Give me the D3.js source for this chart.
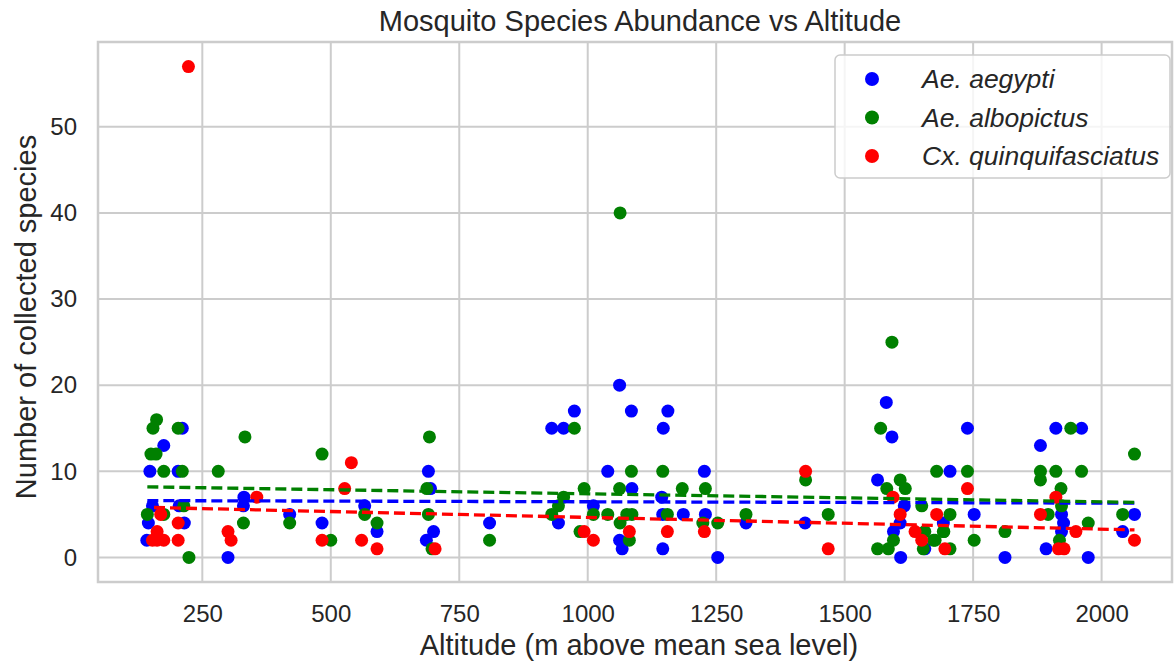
<!DOCTYPE html>
<html>
<head>
<meta charset="utf-8">
<script src="https://cdn.jsdelivr.net/npm/d3@7"></script>
<style>
  body { margin: 0; background: #fff; }
  svg text { font-family: "Liberation Sans", Arial, sans-serif; fill: #262626; }
</style>
</head>
<body>
<svg id="chart" width="1174" height="661"></svg>
<script>
// values
var aegyptiAlt   = [175,211,148,203,331,330,153,205,145,215,142,300,420,483,566,590,
                    690,694,700,686,809,930,953,974,943,1011,1039,1062,1085,1086,1062,1067,1147,1156,1144,1146,1146,1186,
                    1227,1229,1253,1308,1423,1581,1592,1564,1616,1608,1595,1609,1705,1692,1656,
                    1739,1752,1812,1881,1911,1961,1922,1926,1922,1892,1974,2064,2041];
var aegyptiCount = [13,15,10,10,7,6,6,6,4,4,2,0,5,4,6,3,
                    10,8,3,2,4,15,15,17,4,6,10,20,17,8,2,1,15,17,7,5,1,5,
                    10,5,0,4,4,18,14,9,6,4,3,0,10,4,1,
                    15,5,0,13,15,15,5,4,3,1,0,5,3];

var albopictusAlt   = [161,154,203,150,160,175,211,281,333,483,143,175,214,224,330,420,500,566,590,
                       692,687,690,697,809,974,953,943,930,993,1011,985,1039,1062,1085,1076,1086,1063,1081,1146,1155,1184,1063,
                       1229,1224,1253,1308,1424,1468,1570,1582,1608,1618,1650,1595,1564,1585,1673,1653,1679,1705,1693,1705,1592,1656,1676,1692,
                       1739,1752,1812,1940,1881,1881,1911,1961,1921,1896,1922,1918,1974,2064,2041];
var albopictusCount = [16,15,15,12,12,10,10,10,14,12,5,5,6,0,4,4,2,5,4,
                       14,8,5,1,2,15,7,6,5,8,5,3,5,8,10,5,5,4,2,10,5,8,40,
                       8,4,4,5,9,5,15,8,9,8,6,2,1,1,2,1,10,5,3,1,25,3,2,3,
                       10,2,3,15,10,9,10,10,8,5,6,2,4,12,5];

var quinqAlt   = [223,540,527,356,169,203,162,153,162,175,203,300,306,483,560,590,
                  703,993,1011,1081,1155,
                  1227,1424,1468,1594,1608,1637,1650,1679,1695,
                  1739,1911,1881,1916,1927,1950,2064];
var quinqCount = [57,11,8,7,5,4,3,2,2,2,2,3,2,2,2,1,
                  1,3,2,3,3,
                  3,10,1,7,5,3,2,5,1,
                  8,7,5,1,1,3,2];

// dashed trend lines: [start alt, end alt] and [start count, end count]
var aegyptiTrendAlt = [143, 2064],    aegyptiTrend = [6.6, 6.3];
var albopictusTrendAlt = [143, 2064], albopictusTrend = [8.2, 6.4];
var quinqTrendAlt = [156, 2064],      quinqTrend = [5.8, 3.2];

var xTicks = [250, 500, 750, 1000, 1250, 1500, 1750, 2000];
var yTicks = [0, 10, 20, 30, 40, 50];
var speciesNames = ["Ae. aegypti", "Ae. albopictus", "Cx. quinquifasciatus"];
var speciesColors = ["#0000ff", "#008000", "#ff0000"];

var series = [
  {alt: aegyptiAlt, count: aegyptiCount, tAlt: aegyptiTrendAlt, t: aegyptiTrend},
  {alt: albopictusAlt, count: albopictusCount, tAlt: albopictusTrendAlt, t: albopictusTrend},
  {alt: quinqAlt, count: quinqCount, tAlt: quinqTrendAlt, t: quinqTrend}
];

// plot box ("top" is taken by window.top, so m-prefixed names)
var mLeft = 98, mRight = 1172, mTop = 42, mBottom = 582;
var svg = d3.select("#chart");

var x = d3.scaleLinear().domain([47, 2137]).range([mLeft, mRight]);
var y = d3.scaleLinear().domain([-2.85, 59.85]).range([mBottom, mTop]);

// grid
svg.append("g").selectAll("line").data(xTicks).enter().append("line")
  .attr("x1", d => x(d)).attr("x2", d => x(d))
  .attr("y1", mTop).attr("y2", mBottom)
  .style("stroke", "#cccccc").style("stroke-width", 2);
svg.append("g").selectAll("line").data(yTicks).enter().append("line")
  .attr("x1", mLeft).attr("x2", mRight)
  .attr("y1", d => y(d)).attr("y2", d => y(d))
  .style("stroke", "#cccccc").style("stroke-width", 2);

// frame
svg.append("rect")
  .attr("x", mLeft).attr("y", mTop)
  .attr("width", mRight - mLeft).attr("height", mBottom - mTop)
  .style("fill", "none").style("stroke", "#cccccc").style("stroke-width", 2.5);

// axes (labels only, seaborn whitegrid has no tick marks)
var xAxis = svg.append("g").attr("transform", "translate(0," + mBottom + ")")
  .call(d3.axisBottom(x).tickValues(xTicks).tickFormat(d3.format("d")).tickSize(0).tickPadding(23));
var yAxis = svg.append("g").attr("transform", "translate(" + mLeft + ",0)")
  .call(d3.axisLeft(y).tickValues(yTicks).tickFormat(d3.format("d")).tickSize(0).tickPadding(21));
[xAxis, yAxis].forEach(function(a) {
  a.select(".domain").remove();
  a.selectAll("text").style("font-size", "24px").style("font-family", "Liberation Sans, Arial, sans-serif").attr("fill", "#262626");
});

// points
series.forEach(function(s, i) {
  svg.append("g").selectAll("circle").data(s.alt).enter().append("circle")
    .attr("cx", d => x(d))
    .attr("cy", (d, j) => y(s.count[j]))
    .attr("r", 6.5)
    .style("fill", speciesColors[i]);
});

// trend lines
series.forEach(function(s, i) {
  svg.append("line")
    .attr("x1", x(s.tAlt[0])).attr("x2", x(s.tAlt[1]))
    .attr("y1", y(s.t[0])).attr("y2", y(s.t[1]))
    .style("stroke", speciesColors[i])
    .style("stroke-width", 3.3)
    .style("stroke-dasharray", "11,5");
});

// title and axis labels
svg.append("text").attr("x", 640).attr("y", 31)
  .attr("text-anchor", "middle").style("font-size", "29px")
  .text("Mosquito Species Abundance vs Altitude");
svg.append("text").attr("x", 639).attr("y", 655)
  .attr("text-anchor", "middle").style("font-size", "29px")
  .text("Altitude (m above mean sea level)");
svg.append("text")
  .attr("transform", "translate(36,317) rotate(-90)")
  .attr("text-anchor", "middle").style("font-size", "29px")
  .text("Number of collected species");

// legend
var legend = svg.append("g");
legend.append("rect")
  .attr("x", 835).attr("y", 55).attr("width", 335).attr("height", 123)
  .attr("rx", 5)
  .style("fill", "white").style("fill-opacity", 0.8)
  .style("stroke", "#cccccc").style("stroke-width", 1.5);
var items = legend.selectAll(".item").data(speciesNames).enter().append("g")
  .attr("class", "item")
  .attr("transform", (d, i) => "translate(0," + (79 + i * 38.5) + ")");
items.append("circle").attr("cx", 872).attr("cy", 0).attr("r", 7)
  .style("fill", (d, i) => speciesColors[i]);
items.append("text").attr("x", 922).attr("y", 9)
  .style("font-size", "26.5px").style("font-style", "italic")
  .text(d => d);
</script>
</body>
</html>
